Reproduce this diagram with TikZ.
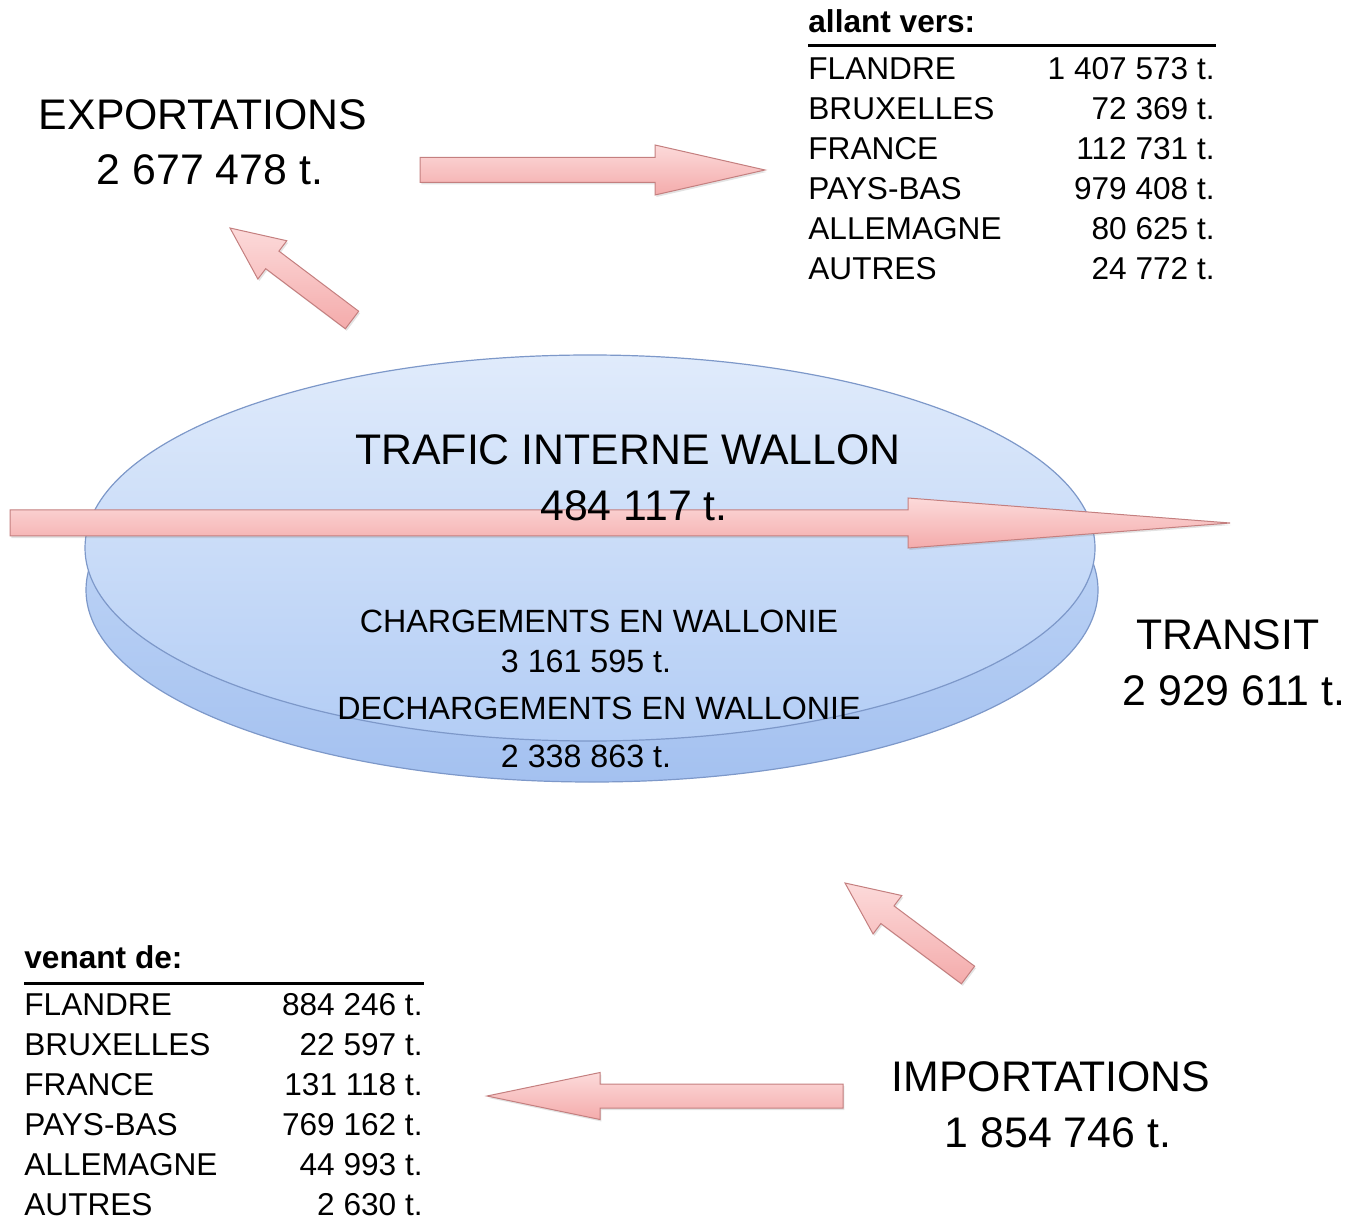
\documentclass[tikz,border=0pt]{standalone}
\usepackage{fontspec}
\setmainfont{Liberation Sans}
\usetikzlibrary{calc,shapes.geometric,shadows}
\definecolor{diskTopA}{HTML}{E0EBFB}
\definecolor{diskTopB}{HTML}{B3CDF5}
\definecolor{diskLowA}{HTML}{CADDF8}
\definecolor{diskLowB}{HTML}{A4C1F0}
\definecolor{diskEdge}{HTML}{7D98C9}
\definecolor{arrTop}{HTML}{FCDADA}
\definecolor{arrBot}{HTML}{F4ABAB}
\definecolor{arrEdge}{HTML}{C47F7F}
\tikzset{
  disk/.style={ellipse, inner sep=0pt, draw=diskEdge, line width=0.6pt},
  blockarrow/.style={draw=arrEdge, line width=0.5pt, top color=arrTop, bottom color=arrBot,
    drop shadow={opacity=0.22, shadow xshift=0.7pt, shadow yshift=-1pt}},
  bigtxt/.style={font=\fontsize{21.4}{25}\selectfont, inner sep=0pt, anchor=base},
  midtxt/.style={font=\fontsize{16.1}{19}\selectfont, inner sep=0pt, anchor=base},
  tabtxt/.style={font=\fontsize{15.8}{19}\selectfont, inner sep=0pt},
  tabhead/.style={font=\fontsize{15.8}{19}\selectfont\bfseries, inner sep=0pt, anchor=base west},
  tabrule/.style={line width=1.5pt}
}
% #1 name, #2 tail, #3 tip, #4 half shaft, #5 head length, #6 half head
\newcommand\BlkArrow[6]{%
  \coordinate (#1-c) at ($(#3)!#5!(#2)$);
  \path[blockarrow] ($(#2)!#4!90:(#3)$) -- ($(#1-c)!#4!90:(#3)$) -- ($(#1-c)!#6!90:(#3)$)
    -- (#3) -- ($(#1-c)!#6!-90:(#3)$) -- ($(#1-c)!#4!-90:(#3)$) -- ($(#2)!#4!-90:(#3)$) -- cycle;
}
\begin{document}
\begin{tikzpicture}[x=0.5pt,y=-0.5pt]
\useasboundingbox (0,0) rectangle (1363,1218);

% disks
\node[disk, minimum width=506pt, minimum height=192pt, top color=diskLowA, bottom color=diskLowB] (lowdisk) at (592,590) {};
\node[disk, minimum width=505pt, minimum height=193pt, top color=diskTopA, bottom color=diskTopB] (topdisk) at (590,548) {};

% arrow end points
\coordinate (expT) at (420,170);  \coordinate (expH) at (765,170);
\coordinate (upT) at (352,320);   \coordinate (upH) at (230,228);
\coordinate (trT) at (10,523);    \coordinate (trH) at (1230,523);
\coordinate (imT) at (968,975);   \coordinate (imH) at (845,883);
\coordinate (inT) at (843,1096);  \coordinate (inH) at (487,1096);

\BlkArrow{ar1}{expT}{expH}{6.25pt}{55pt}{12.5pt}
\BlkArrow{ar2}{upT}{upH}{5.5pt}{26.5pt}{12pt}
\BlkArrow{ar3}{trT}{trH}{6.5pt}{161pt}{12.5pt}
\BlkArrow{ar4}{imT}{imH}{5.5pt}{26.5pt}{12pt}
\BlkArrow{ar5}{inT}{inH}{6pt}{56.5pt}{11.75pt}

% big labels
\node[bigtxt] (expL) at (203,130) {EXPORTATIONS};
\node[bigtxt] (expV) at (210,185) {2 677 478 t.};
\node[bigtxt] (intL) at (628,465) {TRAFIC INTERNE WALLON};
\node[bigtxt] (intV) at (634,521) {484 117 t.};
\node[bigtxt] (trL) at (1228,649) {TRANSIT};
\node[bigtxt] (trV) at (1234,705) {2 929 611 t.};
\node[bigtxt] (imL) at (1051,1091) {IMPORTATIONS};
\node[bigtxt] (imV) at (1058,1147) {1 854 746 t.};

% inner labels
\node[midtxt] (chL) at (599,632) {CHARGEMENTS EN WALLONIE};
\node[midtxt] (chV) at (586,672) {3 161 595 t.};
\node[midtxt] (dchL) at (599,719) {DECHARGEMENTS EN WALLONIE};
\node[midtxt] (dchV) at (586,767) {2 338 863 t.};

% table: allant vers
\node[tabhead] (outH) at (808,33) {allant vers:};
\coordinate (outRL) at (808,46); \coordinate (outRR) at (1216,46);
\draw[tabrule] (outRL) -- (outRR);
\foreach \i/\n/\v in {0/FLANDRE/1 407 573 t., 1/BRUXELLES/72 369 t., 2/FRANCE/112 731 t.,
    3/PAYS-BAS/979 408 t., 4/ALLEMAGNE/80 625 t., 5/AUTRES/24 772 t.}{
  \node[tabtxt, anchor=base west] (outN\i) at (808,{80+40*\i}) {\n};
  \node[tabtxt, anchor=base east] (outV\i) at (1215,{80+40*\i}) {\v};
}

% table: venant de
\node[tabhead] (inH) at (24,968) {venant de:};
\coordinate (inRL) at (24,983); \coordinate (inRR) at (424,983);
\draw[tabrule] (inRL) -- (inRR);
\foreach \i/\n/\v in {0/FLANDRE/884 246 t., 1/BRUXELLES/22 597 t., 2/FRANCE/131 118 t.,
    3/PAYS-BAS/769 162 t., 4/ALLEMAGNE/44 993 t., 5/AUTRES/2 630 t.}{
  \node[tabtxt, anchor=base west] (inN\i) at (24,{1015+40*\i}) {\n};
  \node[tabtxt, anchor=base east] (inV\i) at (423,{1015+40*\i}) {\v};
}
\end{tikzpicture}
\end{document}
